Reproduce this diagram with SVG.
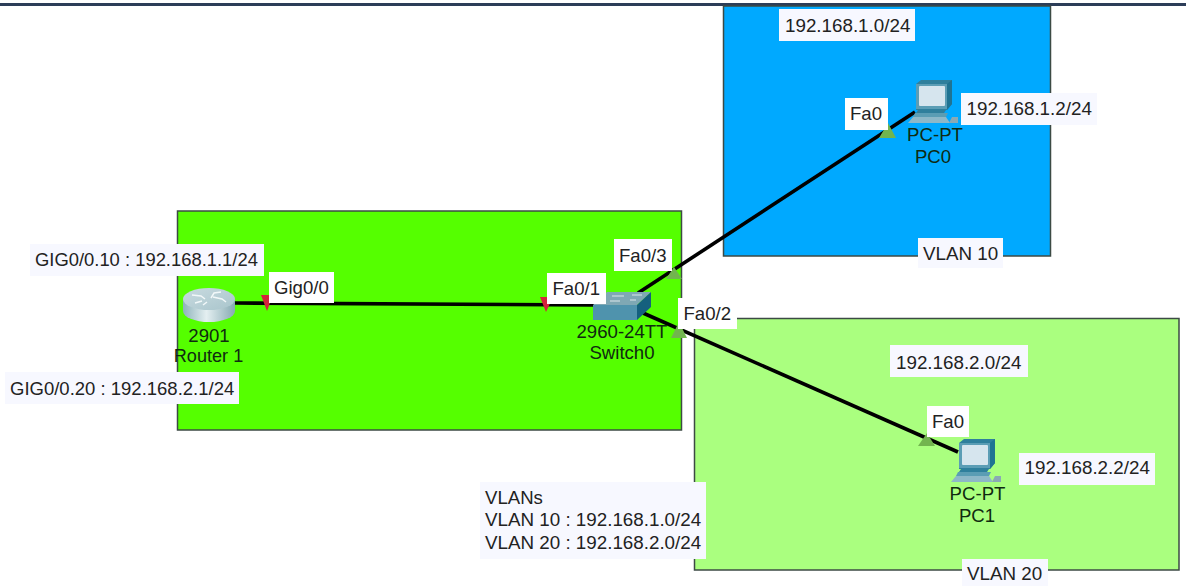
<svg xmlns="http://www.w3.org/2000/svg" width="1186" height="586" viewBox="0 0 1186 586">
<style>
text{font-family:"Liberation Sans",Arial,sans-serif;font-size:18.6px;fill:#222}
.n{fill:#0f2a10;text-anchor:middle}
.area{stroke:#3c4a44;stroke-width:1.5}
.lb{fill:#f7f8ff}
.lw{fill:#fff}
.link{stroke:#000;stroke-width:3.6;fill:none}
.red{fill:#d3243c}
.grn{fill:#72b54f}
.s18{font-size:18.100px}
.s184{font-size:18.400px}
.s185{font-size:18.500px}
.s188{font-size:18.800px}
</style>
<defs>
<linearGradient id="rb" x1="0" x2="1" y1="0" y2="0"><stop offset="0" stop-color="#8fb3bb"/><stop offset=".45" stop-color="#e4eff1"/><stop offset="1" stop-color="#86aab2"/></linearGradient>
<linearGradient id="rt" x1="0" x2="1" y1="0" y2="1"><stop offset="0" stop-color="#c9dbe0"/><stop offset="1" stop-color="#a9c5cc"/></linearGradient>
<g id="pc">
<polygon points="916,84 921,80 952,80 952,104 947,110 916,110" fill="#2f7f9c"/>
<polygon points="947,84 952,80 952,104 947,110" fill="#1f7392"/>
<rect x="916" y="84" width="31" height="25" fill="#5b9db5"/>
<rect x="919" y="86" width="26" height="20" rx="1" fill="#d6e5ee"/>
<polygon points="918,110 946,110 944,113 916,113" fill="#2f7f9c"/>
<polygon points="915,113 948,113 946,117 913,117" fill="#5a9db4"/>
<polygon points="913,117 946,117 950,123 908,123" fill="#8db8c8"/>
<polygon points="952,117 958,117 958,123 949,123" fill="#8aa9b4"/>
</g>
</defs>
<rect width="1186" height="586" fill="#fff"/>
<rect x="0" y="3" width="1186" height="3" fill="#2c3d58"/>
<g id="areas">
<rect class="area" x="723.5" y="6" width="327" height="250" fill="#00a9ff"/>
<rect class="area" x="177.5" y="211" width="504" height="219" fill="#55ff00"/>
<rect class="area" x="694.5" y="318.5" width="484.500" height="251.500" fill="#aaff7f"/>
</g>
<g id="connectors">
<line class="link" x1="235" y1="303" x2="594" y2="305"/>
<line class="link" x1="638" y1="293" x2="915" y2="112"/>
<line class="link" x1="643" y1="313" x2="958" y2="452"/>
<polygon class="red" points="261,295 273,295 267,311"/>
<polygon class="red" points="540,297 553,297 546,312"/>
<polygon class="grn" points="674,267 682,279 666,279"/>
<polygon class="grn" points="679,322 687,338 671,338"/>
<polygon class="grn" points="888,123 896,138 879,138"/>
<polygon class="grn" points="927,433 935,446 918,446"/>
</g>
<g id="router1">
<path d="M183 299v12a26 11 0 0 0 52 0v-12z" fill="url(#rb)"/>
<ellipse cx="209" cy="299" rx="26" ry="11" fill="url(#rt)"/>
<path d="M192 295l9 1 4 3M195 303l7-2M211 298l3-5 7-1M213 297l9 2 4 3M203 305l4-3" stroke="#f2f8f9" stroke-width="1.500" fill="none"/>
<text class="n" x="209" y="342">2901</text>
<text class="n s18" x="208.500" y="362">Router 1</text>
</g>
<g id="switch0">
<polygon points="607,292 651,292 637,305 593,305" fill="#7fa8b4"/>
<rect x="593" y="305" width="44" height="15" fill="#4f93ad"/>
<polygon points="637,305 651,292 651,307 637,320" fill="#15607e"/>
<path d="M612 296h12M632 295h10M610 301h10M630 300l6 0" stroke="#dbe6ea" stroke-width="1.200"/>
<text class="n" x="622" y="338">2960-24TT</text>
<text class="n" x="622" y="359">Switch0</text>
</g>
<g id="pc0">
<use href="#pc"/>
<text class="n" x="935" y="141">PC-PT</text>
<text class="n" x="933" y="163">PC0</text>
</g>
<g id="pc1">
<use href="#pc" x="43" y="359"/>
<text class="n" x="977.500" y="500">PC-PT</text>
<text class="n" x="977" y="522">PC1</text>
</g>
<g id="labels">
<rect class="lb" x="30" y="244" width="234" height="32"/><text class="s184" x="35" y="266">GIG0/0.10 : 192.168.1.1/24</text>
<rect class="lb" x="5" y="372" width="234" height="32"/><text class="s185" x="10" y="395">GIG0/0.20 : 192.168.2.1/24</text>
<rect class="lw" x="269" y="272" width="65" height="31"/><text x="274" y="294">Gig0/0</text>
<rect class="lw" x="547" y="273" width="59" height="31"/><text x="552.500" y="295">Fa0/1</text>
<rect class="lw" x="614" y="239" width="58" height="32"/><text x="619" y="262">Fa0/3</text>
<rect class="lw" x="678" y="298" width="59" height="31"/><text x="683.500" y="320">Fa0/2</text>
<rect class="lw" x="845" y="98" width="43" height="32"/><text x="850" y="120">Fa0</text>
<rect class="lb" x="961" y="93" width="136" height="32"/><text class="s188" x="966.500" y="115">192.168.1.2/24</text>
<rect class="lb" x="779" y="9" width="136" height="32"/><text class="s188" x="785" y="32">192.168.1.0/24</text>
<rect class="lb" x="918" y="238" width="85" height="30"/><text class="s188" x="923" y="260">VLAN 10</text>
<rect class="lb" x="890" y="345" width="138" height="32"/><text class="s188" x="896" y="369">192.168.2.0/24</text>
<rect class="lw" x="927" y="406" width="42" height="31"/><text x="932" y="428">Fa0</text>
<rect class="lb" x="1019" y="453" width="136" height="32"/><text class="s188" x="1024.500" y="474">192.168.2.2/24</text>
<rect class="lb" x="962" y="559" width="86" height="27"/><text class="s188" x="967" y="580">VLAN 20</text>
<rect class="lb" x="480" y="482" width="226" height="77"/>
<text x="485" y="504">VLANs</text>
<text class="s188" x="485" y="526">VLAN 10 : 192.168.1.0/24</text>
<text class="s188" x="485" y="549">VLAN 20 : 192.168.2.0/24</text>
</g>
</svg>
